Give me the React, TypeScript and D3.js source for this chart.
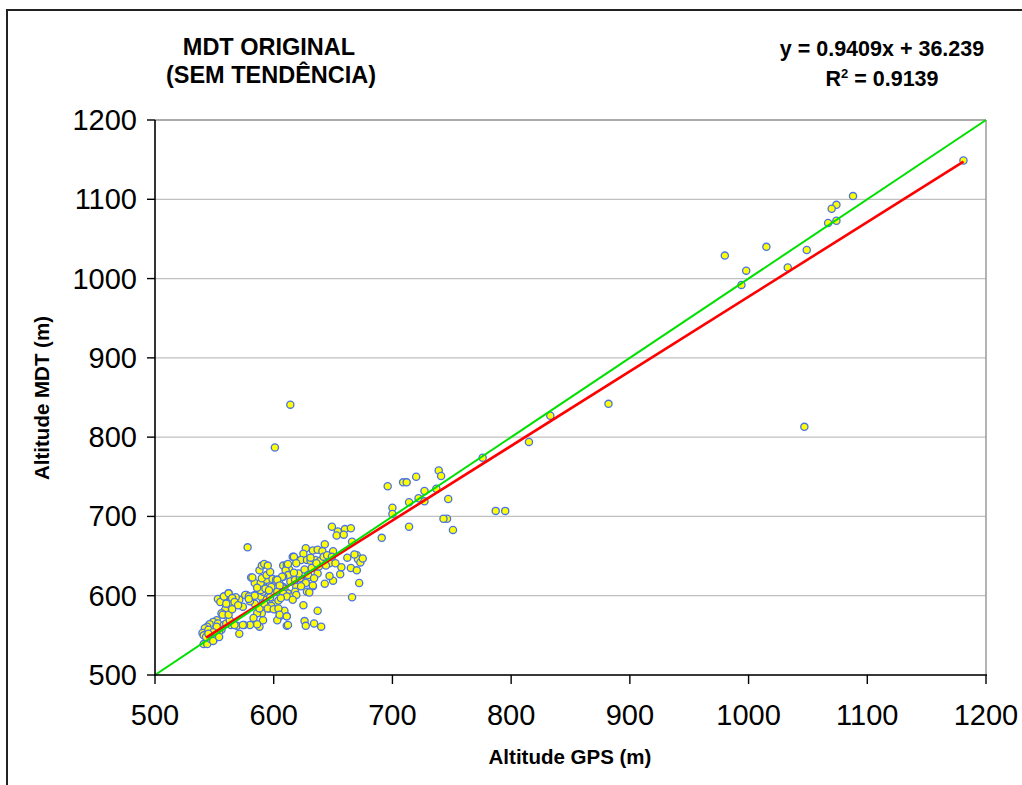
import React from "react";
import * as d3 from "d3";

const titleLines = ["MDT ORIGINAL", "(SEM TENDÊNCIA)"];
const xTitle = "Altitude GPS (m)";
const yTitle = "Altitude MDT (m)";
const ticks = [500, 600, 700, 800, 900, 1000, 1100, 1200];
const slope = 0.9409;
const intercept = 36.239;
const r2Text = "0.9139";

// Altitude GPS (m)
const gpsX = [
  1181, 1088, 1074, 1070, 1067, 1074, 1049, 1015, 980, 998, 994, 1033, 1047, 882, 833, 815, 776, 795, 787, 751,
  746, 743, 747, 739, 741, 737, 720, 709, 712, 696, 727, 722, 727, 714, 700, 700, 714, 691, 614, 601, 578,
  649, 654, 660, 665, 653, 659, 666, 643, 627, 633, 637, 641, 625, 650, 616, 619, 623, 628, 631, 635, 639, 642,
  645, 649, 647, 670, 671, 673, 675, 665, 670, 672, 666, 656, 650, 647, 643, 637, 638, 632, 636, 629, 633, 628,
  625, 637, 626, 627, 634, 640, 611, 611, 609, 605, 602, 596, 591, 588, 586, 580, 575, 569, 564, 571, 590, 586,
  583, 588, 591, 584, 574, 580, 582, 577, 584, 589, 591, 595, 599, 603, 587, 591, 597, 601, 584, 589, 594, 590,
  594, 597, 581, 588, 590, 592, 595, 599, 602, 605, 608, 608, 611, 613, 610, 612, 608, 609, 612, 615, 608, 611,
  614, 618, 622, 619, 618, 619, 616, 601, 604, 598, 594, 597, 592, 558, 553, 560, 563, 558, 562, 566, 571, 568,
  559, 558, 556, 552, 549, 546, 544, 542, 540, 541, 545, 548, 544, 541, 544, 553, 558, 556, 554, 552, 560, 563,
  603, 630, 633, 627, 546, 548, 550, 547, 543, 549, 551, 545, 552, 549, 554, 557, 562, 567, 574, 595, 600, 604,
  605, 611, 612, 607, 612, 617, 619, 582, 555, 558, 562, 565, 560, 567, 576, 579, 584, 589, 593, 598, 603, 605,
  621, 626, 631, 644, 652, 657, 662, 668, 629, 634, 617, 623, 606, 596, 586, 579, 570, 565,
];

// Altitude MDT (m)
const mdtY = [
  1149, 1104, 1093, 1088, 1070, 1073, 1036, 1040, 1029, 1010, 992, 1014, 813, 842, 827, 794, 774, 707, 707, 683,
  697, 697, 722, 758, 751, 735, 750, 743, 743, 738, 732, 723, 719, 718, 711, 703, 687, 673, 841, 787, 661,
  687, 681, 684, 685, 676, 677, 668, 665, 660, 657, 658, 656, 653, 656, 649, 645, 645, 645, 644, 645, 644, 649,
  651, 649, 641, 651, 646, 642, 647, 635, 632, 616, 598, 627, 619, 625, 615, 628, 637, 635, 641, 623, 612, 605,
  588, 581, 568, 562, 565, 561, 562, 574, 581, 574, 583, 584, 569, 561, 564, 563, 563, 562, 563, 552, 578, 578,
  572, 584, 592, 590, 586, 593, 599, 601, 601, 599, 605, 607, 605, 605, 609, 611, 614, 618, 616, 616, 620, 622,
  626, 630, 623, 632, 638, 640, 638, 621, 620, 615, 611, 638, 639, 633, 632, 626, 624, 609, 603, 599, 603, 599,
  618, 620, 622, 611, 605, 601, 595, 590, 594, 587, 595, 598, 590, 595, 596, 586, 591, 599, 603, 597, 595, 598,
  582, 576, 578, 569, 567, 564, 561, 559, 553, 550, 557, 548, 544, 539, 539, 565, 563, 557, 555, 561, 565, 569,
  569, 604, 613, 616, 550, 552, 549, 545, 548, 554, 547, 552, 551, 543, 548, 576, 576, 563, 563, 584, 583, 584,
  576, 574, 563, 624, 640, 649, 641, 623, 592, 599, 603, 597, 590, 592, 601, 599, 600, 607, 609, 611, 620, 613,
  628, 633, 648, 638, 641, 636, 648, 652, 626, 622, 629, 612, 597, 607, 610, 596, 588, 583,
];

const W = 1022;
const H = 785;
const plot = { left: 155, right: 986, top: 120, bottom: 675 };
const font = "'Liberation Sans', Arial, Helvetica, sans-serif";

export default function App() {
  const x = d3.scaleLinear().domain([500, 1200]).range([plot.left, plot.right]);
  const y = d3.scaleLinear().domain([500, 1200]).range([plot.bottom, plot.top]);
  const points = gpsX.map((gx, i) => ({ gx, gy: mdtY[i] }));
  const xMin = d3.min(gpsX) as number;
  const xMax = d3.max(gpsX) as number;
  const line = d3
    .line<[number, number]>()
    .x((d) => x(d[0]))
    .y((d) => y(d[1]));
  const fitPath = line([
    [xMin + 3, slope * (xMin + 3) + intercept],
    [xMax, slope * xMax + intercept],
  ]) as string;
  const idPath = line([
    [500, 500],
    [1200, 1200],
  ]) as string;

  return (
    <svg
      width={W}
      height={H}
      style={{ position: "absolute", left: 0, top: 0, background: "#fff" }}
      fontFamily={font}
    >
      <rect x={0} y={0} width={W} height={H} fill="#fff" />
      {/* outer chart frame */}
      <rect x={7} y={10} width={W + 20} height={H + 20} fill="none" stroke="#222" strokeWidth={2} />

      {/* gridlines */}
      {ticks.map((t) => (
        <line key={"g" + t} x1={plot.left} x2={plot.right} y1={y(t)} y2={y(t)} stroke="#c0c0c0" strokeWidth={1.2} />
      ))}
      {/* plot area border */}
      <line x1={plot.left} x2={plot.right} y1={plot.top} y2={plot.top} stroke="#9a9a9a" strokeWidth={1.5} />
      <line x1={plot.right} x2={plot.right} y1={plot.top} y2={plot.bottom} stroke="#9a9a9a" strokeWidth={1.5} />

      {/* points */}
      {points.map((p, i) => (
        <circle key={i} cx={x(p.gx)} cy={y(p.gy)} r={3.6} fill="#ffff00" stroke="#4a72e8" strokeWidth={1.3} />
      ))}

      {/* trend lines */}
      <path d={fitPath} stroke="#ff0000" strokeWidth={2.6} fill="none" />
      <path d={idPath} stroke="#00e000" strokeWidth={2} fill="none" />

      {/* axes */}
      <line x1={plot.left} x2={plot.left} y1={plot.top} y2={plot.bottom + 1} stroke="#000" strokeWidth={1.6} />
      <line x1={plot.left} x2={plot.right + 1} y1={plot.bottom} y2={plot.bottom} stroke="#000" strokeWidth={1.6} />
      {ticks.map((t) => (
        <g key={"x" + t}>
          <line x1={x(t)} x2={x(t)} y1={plot.bottom} y2={plot.bottom + 9} stroke="#000" strokeWidth={1.4} />
          <text x={x(t)} y={725} textAnchor="middle" fontSize={29} fill="#000">
            {t}
          </text>
        </g>
      ))}
      {ticks.map((t) => (
        <g key={"y" + t}>
          <line x1={plot.left - 8} x2={plot.left} y1={y(t)} y2={y(t)} stroke="#000" strokeWidth={1.4} />
          <text x={137} y={y(t) + 10} textAnchor="end" fontSize={29} fill="#000">
            {t}
          </text>
        </g>
      ))}

      {/* axis titles */}
      <text x={570} y={764} textAnchor="middle" fontSize={20.5} fontWeight="bold" fill="#000">
        {xTitle}
      </text>
      <text
        transform={`translate(49, 398) rotate(-90)`}
        textAnchor="middle"
        fontSize={20.5}
        fontWeight="bold"
        fill="#000"
      >
        {yTitle}
      </text>

      {/* chart title */}
      <text x={269} y={55} textAnchor="middle" fontSize={23.5} fontWeight="bold" fill="#000">
        {titleLines[0]}
      </text>
      <text x={271} y={83} textAnchor="middle" fontSize={23.5} fontWeight="bold" fill="#000">
        {titleLines[1]}
      </text>

      {/* equation */}
      <text x={882} y={56} textAnchor="middle" fontSize={21.5} fontWeight="bold" fill="#000">
        {`y = ${slope}x + ${intercept}`}
      </text>
      <text x={882} y={86} textAnchor="middle" fontSize={21.5} fontWeight="bold" fill="#000">
        R<tspan dy={-8} fontSize={13}>2</tspan>
        <tspan dy={8}>{` = ${r2Text}`}</tspan>
      </text>
    </svg>
  );
}
